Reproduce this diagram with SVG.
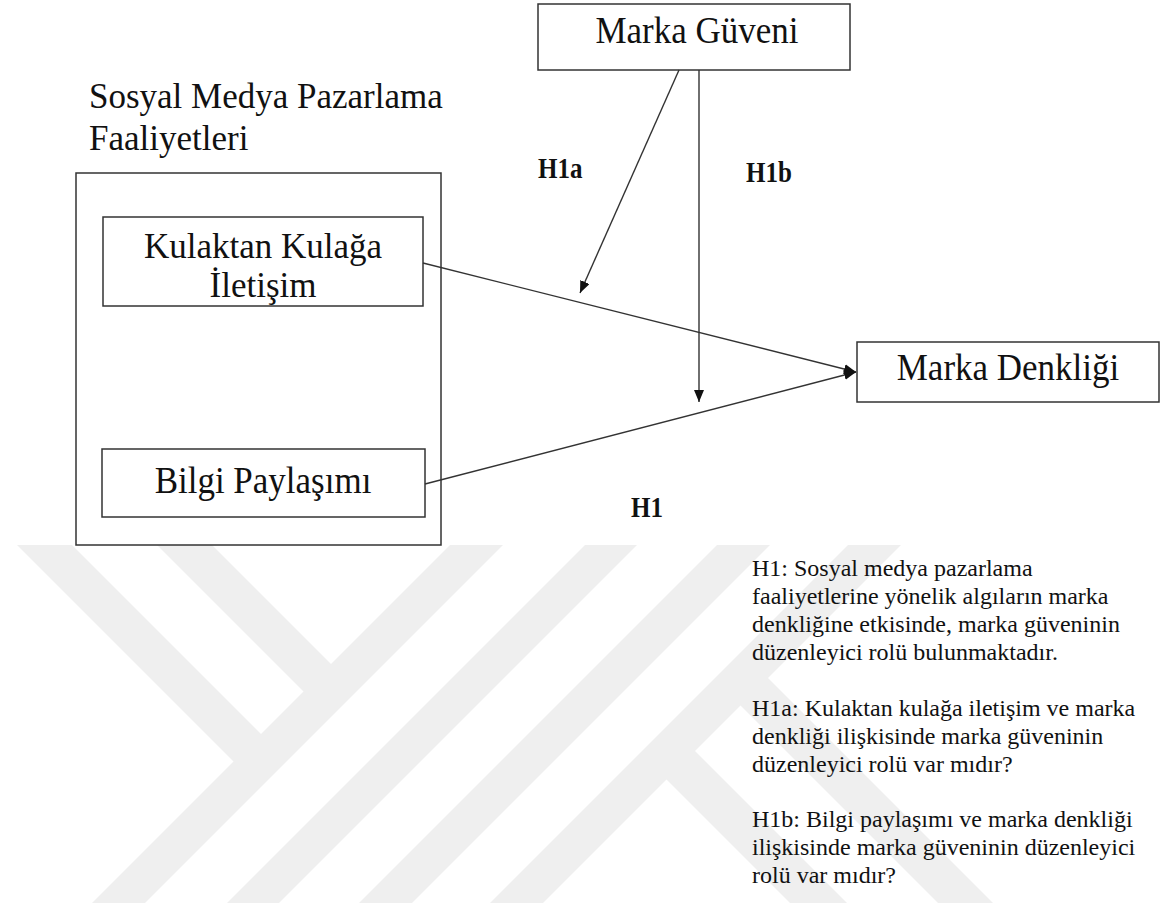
<svg xmlns="http://www.w3.org/2000/svg" width="1171" height="909" viewBox="0 0 1171 909">
<style>
.box{fill:none;stroke:#333;stroke-width:1.5}
.t{font-family:"Liberation Serif","Times New Roman",serif;fill:#111}
.big{font-size:35px}
.lbl{font-size:25px;font-weight:bold}
.hyp{font-size:24px}
.con{stroke:#333;stroke-width:1.4;fill:none}
.wm{fill:#efefef}
</style>
<defs>
<marker id="ah" markerUnits="userSpaceOnUse" markerWidth="14" markerHeight="12" refX="12" refY="5" orient="auto">
<path d="M0,0 L12,5 L0,10 Z" fill="#111"/>
</marker>
<clipPath id="band"><rect x="0" y="545" width="1171" height="358"/></clipPath>
</defs>
<rect width="1171" height="909" fill="#fff"/>
<g id="watermark" clip-path="url(#band)">
<polygon class="wm" points="450,545 503,545 145,903 92,903"/>
<polygon class="wm" points="17,545 72,545 263.5,736.5 236,764"/>
<polygon class="wm" points="157,545 212,545 333.5,666.5 306,694"/>
<polygon class="wm" points="585,545 637,545 279,903 227,903"/>
<polygon class="wm" points="717,545 770,545 412,903 359,903"/>
<polygon class="wm" points="848,545 901,545 543,903 490,903"/>
<polygon class="wm" points="663.5,776.5 692,748 847,903 790,903"/>
<polygon class="wm" points="737.5,702.5 765,675 993,903 938,903"/>
</g>
<g id="heading">
<text class="t big" x="89" y="108">Sosyal Medya Pazarlama</text>
<text class="t big" x="89" y="150">Faaliyetleri</text>
</g>
<g id="smpf-container">
<rect class="box" x="76" y="173" width="365" height="372"/>
</g>
<g id="node-kulaktan">
<rect class="box" x="103" y="217" width="320" height="89"/>
<text class="t big" text-anchor="middle" x="263" y="258">Kulaktan Kulağa</text>
<text class="t big" text-anchor="middle" x="263" y="297">İletişim</text>
</g>
<g id="node-bilgi">
<rect class="box" x="102" y="449" width="323" height="68"/>
<text class="t big" text-anchor="middle" transform="translate(263,493) scale(1,1.1)">Bilgi Paylaşımı</text>
</g>
<g id="node-guven">
<rect class="box" x="538" y="4" width="312" height="66"/>
<text class="t big" text-anchor="middle" transform="translate(697,43) scale(1,1.1)">Marka Güveni</text>
</g>
<g id="node-denklik">
<rect class="box" x="857" y="342" width="302" height="60"/>
<text class="t big" text-anchor="middle" transform="translate(1008,380) scale(1,1.1)">Marka Denkliği</text>
</g>
<g id="connectors">
<line class="con" x1="423" y1="263" x2="856" y2="372" marker-end="url(#ah)"/>
<line class="con" x1="425" y1="484" x2="856" y2="372" marker-end="url(#ah)"/>
<line class="con" x1="699" y1="70" x2="699" y2="402" marker-end="url(#ah)"/>
<line class="con" x1="679" y1="70" x2="580" y2="293" marker-end="url(#ah)"/>
</g>
<g id="labels">
<text class="t lbl" transform="translate(538,178) scale(1,1.15)">H1a</text>
<text class="t lbl" transform="translate(746,182) scale(1,1.15)">H1b</text>
<text class="t lbl" transform="translate(631,517) scale(1,1.15)">H1</text>
</g>
<g id="hypotheses">
<text class="t hyp" x="752" y="576">H1: Sosyal medya pazarlama</text>
<text class="t hyp" x="752" y="604">faaliyetlerine yönelik algıların marka</text>
<text class="t hyp" x="752" y="632">denkliğine etkisinde, marka güveninin</text>
<text class="t hyp" x="752" y="660">düzenleyici rolü bulunmaktadır.</text>
<text class="t hyp" x="752" y="716">H1a: Kulaktan kulağa iletişim ve marka</text>
<text class="t hyp" x="752" y="744">denkliği ilişkisinde marka güveninin</text>
<text class="t hyp" x="752" y="772">düzenleyici rolü var mıdır?</text>
<text class="t hyp" x="752" y="827">H1b: Bilgi paylaşımı ve marka denkliği</text>
<text class="t hyp" x="752" y="855">ilişkisinde marka güveninin düzenleyici</text>
<text class="t hyp" x="752" y="883">rolü var mıdır?</text>
</g>
</svg>
